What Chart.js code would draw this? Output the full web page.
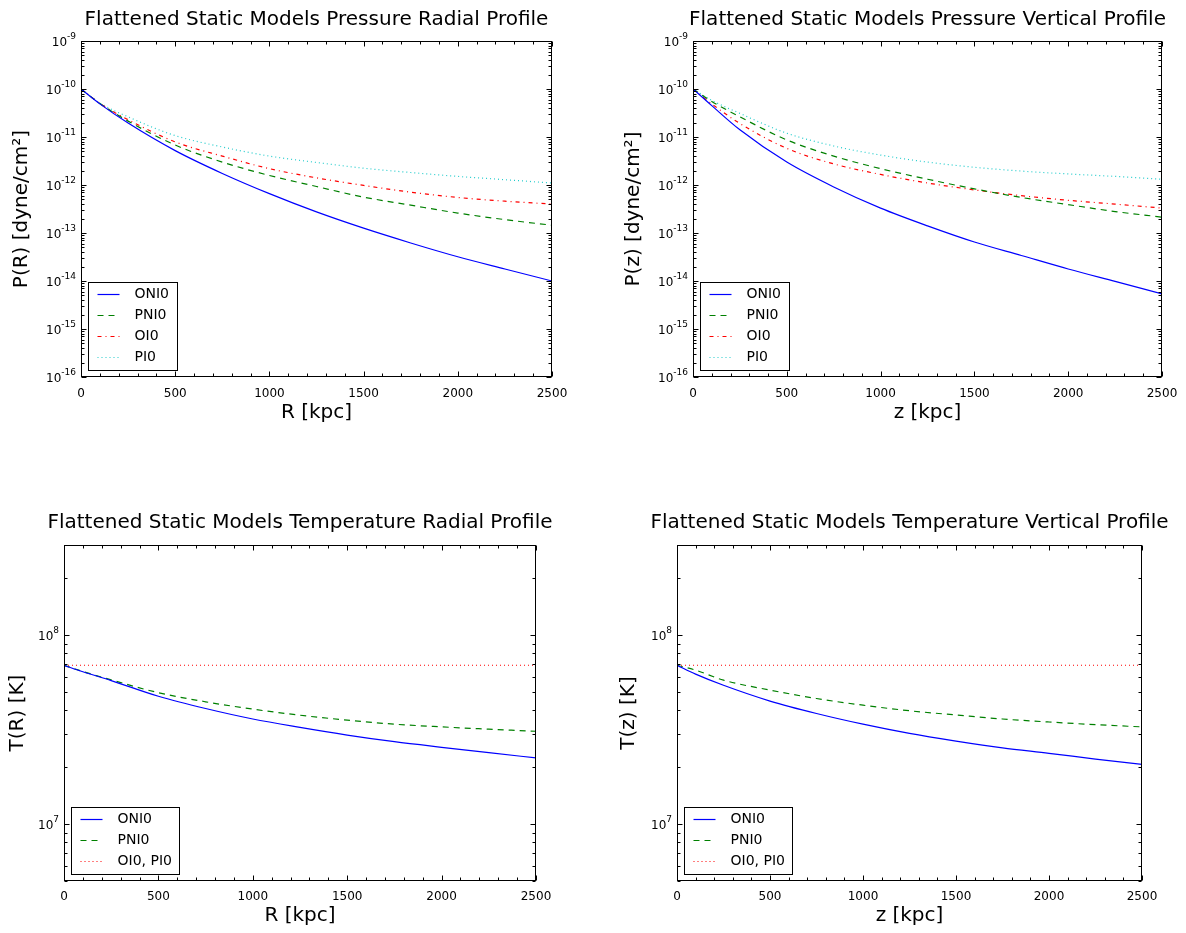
<!DOCTYPE html>
<html lang="en">
<head>
<meta charset="UTF-8">
<title>Flattened Static Models Profiles</title>
<script src="https://cdn.jsdelivr.net/npm/chart.js"></script>
<style>
    body {
        margin: 0;
        background: #fff;
        width: 1186px;
        height: 933px;
        overflow: hidden;
        position: relative;
    }
    canvas {
        position: absolute;
    }
</style>
</head>
<body>
<canvas id="presRadial" width="633" height="466" style="left:0;top:0"></canvas>
<canvas id="presVertical" width="669" height="466" style="left:593px;top:0"></canvas>
<canvas id="tempRadial" width="600" height="467" style="left:0;top:466px"></canvas>
<canvas id="tempVertical" width="633" height="467" style="left:593px;top:466px"></canvas>

<script>
// distance grid (kpc), shared by every profile
const distKpc = [0, 100, 250, 500, 750, 1000, 1250, 1500, 1750, 2000, 2250, 2500];

// pressure, radial direction [dyne/cm^2]
const pRadONI0 = [1.0e-10, 4.9e-11, 1.95e-11, 5.2e-12, 1.74e-12, 6.6e-13, 2.75e-13, 1.26e-13, 6.2e-14, 3.2e-14, 1.78e-14, 1.0e-14];
const pRadPNI0 = [1.0e-10, 5.0e-11, 2.14e-11, 6.8e-12, 3.0e-12, 1.58e-12, 9.3e-13, 5.6e-13, 3.8e-13, 2.6e-13, 1.9e-13, 1.45e-13];
const pRadOI0  = [1.0e-10, 5.0e-11, 2.29e-11, 7.9e-12, 4.0e-12, 2.19e-12, 1.41e-12, 9.8e-13, 7.1e-13, 5.5e-13, 4.6e-13, 4.0e-13];
const pRadPI0  = [1.0e-10, 5.1e-11, 2.63e-11, 1.07e-11, 6.2e-12, 4.0e-12, 2.95e-12, 2.24e-12, 1.82e-12, 1.51e-12, 1.29e-12, 1.10e-12];

// pressure, vertical direction [dyne/cm^2]
const pVerONI0 = [1.0e-10, 4.5e-11, 1.41e-11, 3.0e-12, 9.1e-13, 3.3e-13, 1.41e-13, 6.5e-14, 3.4e-14, 1.78e-14, 9.8e-15, 5.4e-15];
const pVerPNI0 = [1.0e-10, 5.5e-11, 2.63e-11, 8.7e-12, 4.0e-12, 2.19e-12, 1.32e-12, 8.3e-13, 5.5e-13, 3.9e-13, 2.8e-13, 2.14e-13];
const pVerOI0  = [1.0e-10, 4.9e-11, 1.91e-11, 5.8e-12, 2.75e-12, 1.66e-12, 1.10e-12, 7.9e-13, 6.0e-13, 4.8e-13, 4.0e-13, 3.3e-13];
const pVerPI0  = [1.0e-10, 5.8e-11, 3.1e-11, 1.20e-11, 6.5e-12, 4.2e-12, 3.0e-12, 2.34e-12, 1.95e-12, 1.70e-12, 1.51e-12, 1.32e-12];

// temperature [K]
const tRadONI0 = [6.93e7, 6.4e7, 5.75e7, 4.75e7, 4.09e7, 3.60e7, 3.25e7, 2.96e7, 2.73e7, 2.55e7, 2.39e7, 2.24e7];
const tRadPNI0 = [6.93e7, 6.42e7, 5.8e7, 4.96e7, 4.44e7, 4.06e7, 3.77e7, 3.55e7, 3.38e7, 3.27e7, 3.18e7, 3.10e7];
const tVerONI0 = [6.93e7, 6.22e7, 5.43e7, 4.48e7, 3.85e7, 3.38e7, 3.02e7, 2.75e7, 2.53e7, 2.37e7, 2.21e7, 2.07e7];
const tVerPNI0 = [6.93e7, 6.53e7, 5.78e7, 5.12e7, 4.62e7, 4.26e7, 3.98e7, 3.78e7, 3.60e7, 3.47e7, 3.36e7, 3.27e7];
const tIso     = [6.93e7, 6.93e7, 6.93e7, 6.93e7, 6.93e7, 6.93e7, 6.93e7, 6.93e7, 6.93e7, 6.93e7, 6.93e7, 6.93e7];

// axis ticks
const distTicks = [0, 500, 1000, 1500, 2000, 2500];
const presTicks = [1e-16, 1e-15, 1e-14, 1e-13, 1e-12, 1e-11, 1e-10, 1e-9];
const tempTicks = [1e7, 1e8];

const FONT = '"DejaVu Sans", sans-serif';
Chart.defaults.font.family = FONT;
Chart.defaults.color = '#000';

function pts(ys) {
    return distKpc.map((x, i) => ({x: x, y: ys[i]}));
}

const styles = {
    solidBlue:  {borderColor: '#0000ff', borderDash: []},
    dashGreen:  {borderColor: '#008000', borderDash: [6, 5]},
    dashDotRed: {borderColor: '#ff0000', borderDash: [4, 4, 1, 4]},
    dotCyan:    {borderColor: '#22cccc', borderDash: [1, 3]},
    dotRed:     {borderColor: '#ff0000', borderDash: [1, 3]}
};

function series(label, ys, style) {
    return Object.assign({
        label: label,
        data: pts(ys),
        borderWidth: 1.2,
        pointRadius: 0,
        fill: false,
        cubicInterpolationMode: 'monotone'
    }, styles[style]);
}

// frame, inward ticks on all four sides, power-of-ten labels and a boxed legend
const framePlugin = {
    id: 'mplFrame',
    afterDatasetsDraw(chart) {
        const {ctx, chartArea: a, scales: {x, y}} = chart;
        const L = Math.round(a.left) + 0.5, R = Math.round(a.right) - 0.5;
        const T = Math.round(a.top) + 0.5, B = Math.round(a.bottom) - 0.5;
        ctx.save();
        ctx.strokeStyle = '#000';
        ctx.lineWidth = 1;
        ctx.setLineDash([]);

        ctx.beginPath();
        const vTick = (px, len) => {
            px = Math.round(px) + 0.5;
            ctx.moveTo(px, B); ctx.lineTo(px, B - len);
            ctx.moveTo(px, T); ctx.lineTo(px, T + len);
        };
        const hTick = (py, len) => {
            py = Math.round(py) + 0.5;
            ctx.moveTo(L, py); ctx.lineTo(L + len, py);
            ctx.moveTo(R, py); ctx.lineTo(R - len, py);
        };
        x.ticks.forEach(t => vTick(x.getPixelForValue(t.value), 5));
        for (let v = x.min; v <= x.max; v += 100) {
            if (v % 500 !== 0) vTick(x.getPixelForValue(v), 3);
        }
        y.ticks.forEach(t => hTick(y.getPixelForValue(t.value), 5));
        const e0 = Math.floor(Math.log10(y.min)), e1 = Math.ceil(Math.log10(y.max));
        for (let e = e0; e <= e1; e++) {
            for (let m = 2; m <= 9; m++) {
                const v = m * Math.pow(10, e);
                if (v >= y.min * 0.999 && v <= y.max * 1.001) hTick(y.getPixelForValue(v), 3);
            }
        }
        ctx.stroke();
        ctx.strokeRect(L, T, R - L, B - T);

        // y tick labels as 10 with a raised exponent
        ctx.fillStyle = '#000';
        ctx.textBaseline = 'alphabetic';
        ctx.textAlign = 'left';
        y.ticks.forEach(t => {
            const py = y.getPixelForValue(t.value);
            const exp = String(Math.round(Math.log10(t.value)));
            ctx.font = '9px ' + FONT;
            const ew = ctx.measureText(exp).width;
            ctx.font = '12px ' + FONT;
            const bw = ctx.measureText('10').width;
            const xr = a.left - 5;
            ctx.fillText('10', xr - ew - bw, py + 4.5);
            ctx.font = '9px ' + FONT;
            ctx.fillText(exp, xr - ew, py - 2);
        });

        // legend
        const items = chart.data.datasets;
        ctx.font = '14px ' + FONT;
        const textW = Math.max(...items.map(d => ctx.measureText(d.label).width));
        const rowH = 21.3;
        const boxW = Math.round(46 + textW + 8);
        const boxH = Math.round(11 + (items.length - 1) * rowH + 13);
        const bx = Math.round(a.left + 7) + 0.5;
        const by = Math.round(a.bottom - 7 - boxH) + 0.5;
        ctx.fillStyle = '#fff';
        ctx.fillRect(bx, by, boxW, boxH);
        ctx.strokeStyle = '#000';
        ctx.strokeRect(bx, by, boxW, boxH);
        ctx.textBaseline = 'middle';
        items.forEach((d, i) => {
            const cy = Math.round(by + 11 + i * rowH) + 0.5;
            ctx.beginPath();
            ctx.setLineDash(d.borderDash);
            ctx.strokeStyle = d.borderColor;
            ctx.lineWidth = d.borderWidth;
            ctx.moveTo(bx + 9, cy);
            ctx.lineTo(bx + 31, cy);
            ctx.stroke();
            ctx.setLineDash([]);
            ctx.fillStyle = '#000';
            ctx.fillText(d.label, bx + 46, cy);
        });
        ctx.restore();
    }
};

function makeChart(id, cfg) {
    return new Chart(document.getElementById(id), {
        type: 'line',
        data: {datasets: cfg.datasets},
        options: {
            responsive: false,
            animation: false,
            devicePixelRatio: 1,
            layout: {padding: 0},
            plugins: {
                legend: {display: false},
                tooltip: {enabled: false},
                title: {
                    display: true,
                    text: cfg.title,
                    color: '#000',
                    font: {size: 20, weight: 'normal'},
                    padding: {top: cfg.titleTop, bottom: cfg.titleBottom}
                }
            },
            scales: {
                x: {
                    type: 'linear',
                    min: 0,
                    max: 2500,
                    afterBuildTicks: s => { s.ticks = distTicks.map(v => ({value: v})); },
                    afterFit: s => { s.height = cfg.xHeight; },
                    grid: {display: false, drawTicks: false},
                    border: {display: false},
                    ticks: {padding: cfg.xTickPad, color: '#000', font: {size: 12}, maxRotation: 0, autoSkip: false,
                            callback: v => String(v)},
                    title: {display: true, text: cfg.xTitle, color: '#000', font: {size: 20},
                            padding: {top: 0, bottom: cfg.xTitlePad}}
                },
                y: {
                    type: 'logarithmic',
                    min: cfg.yMin,
                    max: cfg.yMax,
                    afterBuildTicks: s => { s.ticks = cfg.yTicks.map(v => ({value: v})); },
                    afterFit: s => { s.width = cfg.yWidth; },
                    grid: {display: false, drawTicks: false},
                    border: {display: false},
                    ticks: {display: false},
                    title: {display: true, text: cfg.yTitle, color: '#000', font: {size: 20},
                            padding: {top: cfg.yTitlePad, bottom: 0}}
                },
                // empty right-hand axis, keeps the plot centred under the title
                yRight: {
                    type: 'linear',
                    position: 'right',
                    afterFit: s => { s.width = cfg.yWidth; },
                    grid: {display: false, drawTicks: false},
                    border: {display: false},
                    ticks: {display: false}
                }
            }
        },
        plugins: [framePlugin]
    });
}

makeChart('presRadial', {
    title: 'Flattened Static Models Pressure Radial Profile',
    xTitle: 'R [kpc]', yTitle: 'P(R) [dyne/cm²]',
    yMin: 1e-16, yMax: 1e-9, yTicks: presTicks,
    yWidth: 81, xHeight: 89, xTickPad: 10, xTitlePad: 41, yTitlePad: 10,
    titleTop: 8, titleBottom: 9,
    datasets: [
        series('ONI0', pRadONI0, 'solidBlue'),
        series('PNI0', pRadPNI0, 'dashGreen'),
        series('OI0', pRadOI0, 'dashDotRed'),
        series('PI0', pRadPI0, 'dotCyan')
    ]
});

makeChart('presVertical', {
    title: 'Flattened Static Models Pressure Vertical Profile',
    xTitle: 'z [kpc]', yTitle: 'P(z) [dyne/cm²]',
    yMin: 1e-16, yMax: 1e-9, yTicks: presTicks,
    yWidth: 100, xHeight: 89, xTickPad: 10, xTitlePad: 41, yTitlePad: 29,
    titleTop: 8, titleBottom: 9,
    datasets: [
        series('ONI0', pVerONI0, 'solidBlue'),
        series('PNI0', pVerPNI0, 'dashGreen'),
        series('OI0', pVerOI0, 'dashDotRed'),
        series('PI0', pVerPI0, 'dotCyan')
    ]
});

makeChart('tempRadial', {
    title: 'Flattened Static Models Temperature Radial Profile',
    xTitle: 'R [kpc]', yTitle: 'T(R) [K]',
    yMin: 5e6, yMax: 3e8, yTicks: tempTicks,
    yWidth: 64, xHeight: 52, xTickPad: 9, xTitlePad: 5, yTitlePad: 6,
    titleTop: 45, titleBottom: 10,
    datasets: [
        series('ONI0', tRadONI0, 'solidBlue'),
        series('PNI0', tRadPNI0, 'dashGreen'),
        series('OI0, PI0', tIso, 'dotRed')
    ]
});

makeChart('tempVertical', {
    title: 'Flattened Static Models Temperature Vertical Profile',
    xTitle: 'z [kpc]', yTitle: 'T(z) [K]',
    yMin: 5e6, yMax: 3e8, yTicks: tempTicks,
    yWidth: 84, xHeight: 52, xTickPad: 9, xTitlePad: 5, yTitlePad: 24,
    titleTop: 45, titleBottom: 10,
    datasets: [
        series('ONI0', tVerONI0, 'solidBlue'),
        series('PNI0', tVerPNI0, 'dashGreen'),
        series('OI0, PI0', tIso, 'dotRed')
    ]
});
</script>
</body>
</html>
